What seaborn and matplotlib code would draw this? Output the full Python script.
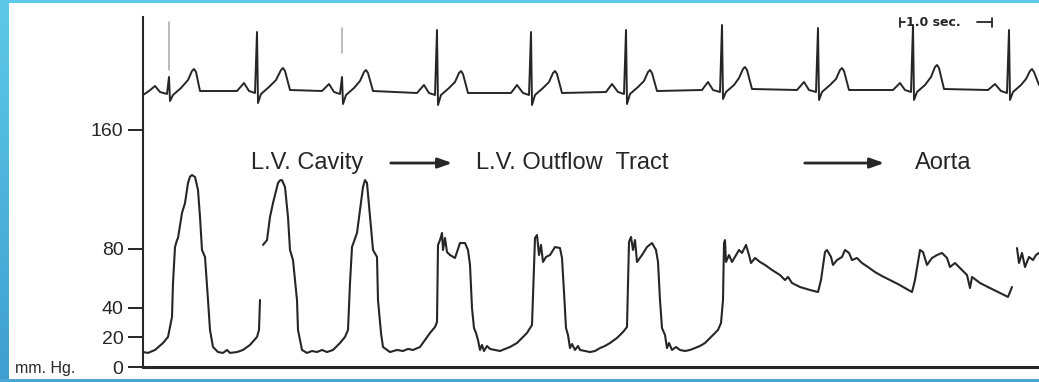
import matplotlib
matplotlib.use("Agg")
import numpy as np
import pandas as pd
import matplotlib.pyplot as plt
from matplotlib.colors import LinearSegmentedColormap
from matplotlib.patches import Rectangle
import seaborn as sns

# ---------------- data ----------------
# time in seconds from the left edge of the record, pressure in mm Hg
cavity_a = [(0.00, 10.1), (0.05, 9.5), (0.12, 11.5), (0.20, 16.2), (0.25, 20.3), (0.29, 33.8),
            (0.30, 56.7), (0.32, 81.0), (0.34, 85.7), (0.35, 87.1), (0.39, 104.0), (0.42, 110.7),
            (0.45, 124.2), (0.47, 128.5), (0.49, 129.6), (0.52, 128.3), (0.55, 119.5), (0.57, 101.3),
            (0.59, 79.0), (0.62, 74.3), (0.65, 45.2), (0.67, 25.0), (0.70, 13.5), (0.75, 10.1),
            (0.80, 9.5), (0.84, 11.5), (0.87, 9.5), (0.94, 10.1), (1.00, 11.5), (1.07, 14.9),
            (1.14, 20.3), (1.16, 25.0), (1.17, 45.2)]

cavity_b = [(1.20, 82.4), (1.24, 85.7), (1.27, 101.3), (1.30, 110.7), (1.35, 124.2), (1.37, 126.0),
            (1.39, 126.2), (1.42, 121.5), (1.45, 101.3), (1.47, 79.0), (1.50, 72.2), (1.54, 45.2),
            (1.55, 25.0), (1.59, 11.5), (1.64, 9.5), (1.69, 10.8), (1.74, 10.1), (1.79, 11.5),
            (1.84, 10.1), (1.90, 11.5), (1.97, 16.2), (2.02, 20.3), (2.05, 25.0), (2.07, 56.7),
            (2.09, 81.0), (2.14, 90.5), (2.17, 106.0), (2.20, 121.5), (2.22, 126.2), (2.24, 124.2),
            (2.27, 101.3), (2.30, 79.0), (2.34, 74.3), (2.35, 45.2), (2.38, 23.0), (2.40, 13.5),
            (2.47, 10.1), (2.54, 11.5), (2.60, 10.8), (2.65, 12.2), (2.70, 11.5), (2.77, 13.5),
            (2.82, 18.2), (2.87, 23.0), (2.92, 27.0)]

outflow = [(2.94, 30.4), (2.95, 82.4), (2.97, 85.7), (2.99, 90.5), (3.00, 79.0), (3.02, 87.1),
           (3.04, 77.6), (3.07, 75.6), (3.12, 73.6), (3.14, 77.6), (3.17, 83.7), (3.22, 83.7),
           (3.25, 79.0), (3.27, 68.9), (3.29, 39.8), (3.31, 26.3), (3.33, 23.0), (3.35, 18.2),
           (3.37, 11.5), (3.39, 14.9), (3.41, 10.8), (3.44, 14.2), (3.47, 12.2), (3.52, 11.5),
           (3.57, 10.8), (3.62, 12.2), (3.67, 13.5), (3.74, 16.2), (3.79, 19.6), (3.84, 23.0),
           (3.87, 26.3), (3.89, 28.4), (3.92, 87.1), (3.94, 89.1), (3.96, 75.6), (3.98, 82.4),
           (4.00, 70.9), (4.03, 74.3), (4.07, 75.6), (4.12, 81.0), (4.17, 80.3), (4.19, 73.6),
           (4.21, 50.6), (4.23, 26.3), (4.25, 21.6), (4.27, 12.8), (4.29, 15.5), (4.32, 11.5),
           (4.35, 14.2), (4.37, 11.5), (4.42, 10.8), (4.47, 10.1), (4.52, 10.8), (4.57, 12.8),
           (4.62, 14.2), (4.67, 16.2), (4.74, 19.6), (4.80, 23.6), (4.84, 27.0), (4.86, 84.4),
           (4.88, 87.8), (4.90, 79.0), (4.92, 85.7), (4.94, 70.9), (4.99, 75.6), (5.04, 81.0),
           (5.09, 83.7), (5.13, 79.0), (5.15, 70.9), (5.17, 45.2), (5.19, 26.3), (5.22, 21.6),
           (5.24, 12.8), (5.26, 16.2), (5.29, 11.5), (5.33, 13.5), (5.37, 11.5), (5.42, 10.8),
           (5.47, 11.5), (5.52, 12.8), (5.57, 14.2), (5.62, 16.2), (5.69, 20.9), (5.75, 25.0),
           (5.78, 29.7)]

aorta = [(5.80, 45.2), (5.81, 83.7), (5.82, 85.7), (5.83, 70.9), (5.86, 75.6), (5.89, 70.9),
         (5.93, 75.6), (5.96, 79.0), (5.99, 77.0), (6.03, 82.4), (6.06, 75.6), (6.08, 70.2),
         (6.12, 73.6), (6.17, 70.9), (6.22, 68.9), (6.29, 65.5), (6.37, 62.1), (6.42, 58.7),
         (6.45, 60.8), (6.49, 56.7), (6.57, 54.0), (6.67, 52.0), (6.75, 50.6), (6.78, 58.7),
         (6.82, 77.6), (6.84, 79.0), (6.88, 74.3), (6.90, 68.9), (6.94, 72.2), (6.99, 74.3),
         (7.02, 79.0), (7.06, 77.0), (7.09, 72.2), (7.14, 73.6), (7.19, 70.2), (7.25, 67.5),
         (7.32, 64.1), (7.39, 61.4), (7.47, 58.7), (7.55, 56.0), (7.62, 53.3), (7.69, 50.6),
         (7.72, 58.7), (7.77, 79.0), (7.80, 77.6), (7.84, 68.9), (7.89, 73.6), (7.94, 75.6),
         (7.99, 77.0), (8.04, 73.6), (8.07, 67.5), (8.12, 70.2), (8.19, 65.5), (8.24, 62.1),
         (8.27, 53.3), (8.29, 60.8), (8.37, 56.7), (8.47, 53.3), (8.57, 50.0), (8.65, 47.3),
         (8.69, 54.0)]

aorta_tail = [(8.74, 80.3), (8.76, 70.2), (8.79, 77.0), (8.82, 67.5), (8.86, 74.3), (8.90, 72.2),
              (8.93, 75.6), (8.96, 77.0)]

# ECG lead, millivolts
ecg = [(0.00, -0.08), (0.06, 0.00), (0.12, 0.10), (0.17, -0.02), (0.24, -0.06), (0.26, 0.28), (0.27, -0.20),
       (0.30, -0.08), (0.38, 0.06), (0.45, 0.22), (0.49, 0.40), (0.51, 0.44), (0.53, 0.38), (0.57, 0.00),
       (0.94, 0.00), (1.01, 0.16), (1.06, 0.00), (1.12, -0.04), (1.14, 1.18), (1.15, -0.24), (1.18, -0.06),
       (1.26, 0.08), (1.33, 0.22), (1.38, 0.42), (1.40, 0.46), (1.42, 0.40), (1.47, 0.02),
       (1.79, 0.00), (1.86, 0.14), (1.91, -0.02), (1.97, -0.06), (1.99, 0.28), (2.00, -0.26), (2.03, -0.08),
       (2.11, 0.06), (2.17, 0.20), (2.21, 0.38), (2.23, 0.42), (2.25, 0.36), (2.30, 0.00),
       (2.74, -0.04), (2.81, 0.12), (2.86, -0.04), (2.92, -0.08), (2.94, 1.22), (2.95, -0.28), (2.98, -0.08),
       (3.06, 0.06), (3.12, 0.18), (3.16, 0.36), (3.18, 0.40), (3.20, 0.34), (3.25, -0.04),
       (3.68, -0.04), (3.74, 0.12), (3.80, -0.04), (3.86, -0.08), (3.88, 1.18), (3.89, -0.28), (3.92, -0.08),
       (4.00, 0.06), (4.06, 0.18), (4.10, 0.36), (4.12, 0.40), (4.14, 0.34), (4.19, -0.04),
       (4.63, -0.02), (4.69, 0.14), (4.75, -0.02), (4.81, -0.06), (4.83, 1.22), (4.84, -0.26), (4.87, -0.06),
       (4.95, 0.08), (5.01, 0.20), (5.05, 0.38), (5.07, 0.42), (5.09, 0.36), (5.14, 0.00),
       (5.59, 0.02), (5.65, 0.18), (5.70, 0.02), (5.77, -0.02), (5.79, 1.32), (5.80, -0.16), (5.83, -0.02),
       (5.91, 0.12), (5.96, 0.26), (6.00, 0.44), (6.02, 0.48), (6.04, 0.42), (6.09, 0.04),
       (6.54, 0.02), (6.61, 0.18), (6.66, 0.02), (6.73, -0.02), (6.75, 1.26), (6.76, -0.18), (6.79, -0.02),
       (6.87, 0.12), (6.93, 0.24), (6.97, 0.42), (6.99, 0.46), (7.01, 0.40), (7.06, 0.02),
       (7.50, 0.02), (7.57, 0.16), (7.62, 0.02), (7.68, -0.02), (7.70, 1.32), (7.71, -0.18), (7.74, -0.02),
       (7.82, 0.12), (7.88, 0.28), (7.92, 0.48), (7.94, 0.52), (7.96, 0.46), (8.01, 0.04),
       (8.45, 0.02), (8.52, 0.14), (8.58, 0.00), (8.64, -0.04), (8.66, 1.22), (8.67, -0.18), (8.70, -0.02),
       (8.78, 0.12), (8.83, 0.24), (8.87, 0.40), (8.89, 0.44), (8.91, 0.38), (8.96, 0.12)]

# faintly reproduced R waves of beats 1 and 3
ecg_faint_r1 = [(0.26, 1.38), (0.26, 0.42)]
ecg_faint_r3 = [(1.99, 1.26), (1.99, 0.76)]

pressure_ticks = [0, 20, 40, 80, 160]
labels = ["L.V. Cavity", "L.V. Outflow  Tract", "Aorta"]

# ---------------- build tables ----------------
def seg_frame(points, seg, cols):
    df = pd.DataFrame(points, columns=cols)
    df["seg"] = seg
    return df

p_df = pd.concat([
    seg_frame(cavity_a, "a", ["t", "mmhg"]),
    seg_frame(cavity_b + outflow + aorta, "b", ["t", "mmhg"]),
    seg_frame(aorta_tail, "c", ["t", "mmhg"]),
], ignore_index=True)

ecg_df = seg_frame(ecg, "main", ["t", "mv"])
faint_df = pd.concat([seg_frame(ecg_faint_r1, "r1", ["t", "mv"]),
                      seg_frame(ecg_faint_r3, "r3", ["t", "mv"])], ignore_index=True)

# ---------------- style ----------------
sns.set_theme(style="white")
plt.rcParams["font.family"] = ["Liberation Sans", "DejaVu Sans"]
ink = "#262626"

W, H = 1039, 382
fig = plt.figure(figsize=(W / 100, H / 100), dpi=100)
fig.patch.set_facecolor("white")

x0 = 143 / W
xw = (W - 143) / W
ax_e = fig.add_axes([x0, 1 - 130 / H, xw, 113 / H])
ax_p = fig.add_axes([x0, 15 / H, xw, 237 / H])

for ax in (ax_e, ax_p):
    ax.set_facecolor("none")
    ax.set_xlim(0, 8.96)
    for s in ("top", "right"):
        ax.spines[s].set_visible(False)
    ax.spines["left"].set_color(ink)
    ax.spines["left"].set_linewidth(1.5)

# ECG
sns.lineplot(data=ecg_df, x="t", y="mv", units="seg", estimator=None, sort=False,
             color=ink, linewidth=1.4, ax=ax_e, legend=False)
sns.lineplot(data=faint_df, x="t", y="mv", units="seg", estimator=None, sort=False,
             color="#a8a8a8", linewidth=1.1, ax=ax_e, legend=False)
ax_e.set_ylim(-0.78, 1.48)
ax_e.spines["bottom"].set_visible(False)
ax_e.set_xticks([])
ax_e.set_yticks([])
ax_e.set_xlabel("")
ax_e.set_ylabel("")

# 1.0 sec calibration mark
ax_e.plot([7.57, 7.57], [1.29, 1.47], color=ink, lw=1.3, clip_on=False)
ax_e.plot([7.57, 7.62], [1.38, 1.38], color=ink, lw=1.3, clip_on=False)
ax_e.text(7.63, 1.38, "1.0 sec.", fontsize=9, fontweight="bold", color=ink,
          va="center", ha="left", family=["DejaVu Sans"])
ax_e.plot([8.34, 8.49], [1.38, 1.38], color=ink, lw=1.3, clip_on=False)
ax_e.plot([8.49, 8.49], [1.29, 1.47], color=ink, lw=1.3, clip_on=False)

# pressure
sns.lineplot(data=p_df, x="t", y="mmhg", units="seg", estimator=None, sort=False,
             color=ink, linewidth=1.5, ax=ax_p, legend=False)
ax_p.set_ylim(0, 160)
ax_p.set_xticks([])
ax_p.set_yticks(pressure_ticks)
ax_p.set_yticklabels([str(v) for v in pressure_ticks])
ax_p.tick_params(axis="y", which="both", left=True, direction="out", length=11, width=1.4,
                 pad=3, labelsize=14, colors=ink)
ax_p.spines["bottom"].set_color(ink)
ax_p.spines["bottom"].set_linewidth(2.2)
ax_p.set_xlabel("")
ax_p.set_ylabel("")

ty = 137.7
ax_p.text(1.08, ty, labels[0], fontsize=17, color=ink, va="center", ha="left")
ax_p.annotate("", xy=(3.12, ty), xytext=(2.45, ty),
              arrowprops=dict(arrowstyle="-|>,head_length=0.7,head_width=0.25", lw=2, color=ink))
ax_p.text(3.33, ty, labels[1], fontsize=17, color=ink, va="center", ha="left")
ax_p.annotate("", xy=(7.44, ty), xytext=(6.59, ty),
              arrowprops=dict(arrowstyle="-|>,head_length=0.7,head_width=0.25", lw=2, color=ink))
ax_p.text(7.72, ty, labels[2], fontsize=17, color=ink, va="center", ha="left")

fig.text(15 / W, (H - 369) / H, "mm. Hg.", fontsize=11.5, color=ink, va="center", ha="left")

# slide frame (blue border)
ax_b = fig.add_axes([0, 0, 9 / W, 1])
cmap = LinearSegmentedColormap.from_list("edge", ["#5ec9e7", "#3f9fd1"])
ax_b.imshow(np.linspace(0, 1, 256).reshape(-1, 1), aspect="auto", cmap=cmap)
ax_b.axis("off")
fig.patches.append(Rectangle((0, 1 - 3 / H), 1, 3 / H, transform=fig.transFigure,
                             facecolor="#5dc8e8", edgecolor="none"))
fig.patches.append(Rectangle((0, 0), 1, 3 / H, transform=fig.transFigure,
                             facecolor="#4aa6d4", edgecolor="none"))

fig.savefig("out.png", dpi=100, facecolor="white")
